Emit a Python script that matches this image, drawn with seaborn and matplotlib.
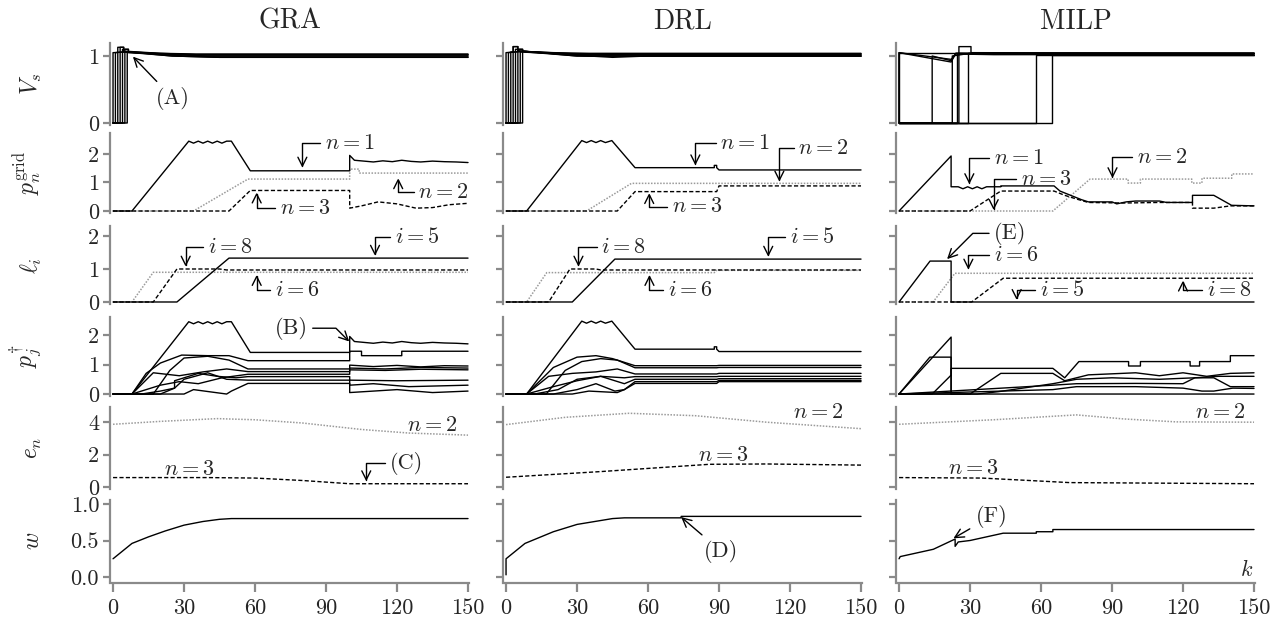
import matplotlib
matplotlib.use("Agg")
import matplotlib.pyplot as plt
import seaborn as sns

# ---------------- data ----------------
METHODS = ["GRA", "DRL", "MILP"]
ROW_LABELS = [r"$V_s$", r"$p_n^{\mathrm{grid}}$", r"$\ell_i$", r"$p_j^{\dagger}$", r"$e_n$", r"$w$"]
X_TICKS = [0, 30, 60, 90, 120, 150]
Y_TICKS = [[0, 1], [0, 1, 2], [0, 1, 2], [0, 1, 2], [0, 2, 4], [0.0, 0.5, 1.0]]
Y_TICKLABELS = [["0", "1"], ["0", "1", "2"], ["0", "1", "2"], ["0", "1", "2"],
                ["0", "2", "4"], ["0.0", "0.5", "1.0"]]

# bus voltages V_s  (k, value) per bus
GRA_VS = [
    ([0, 0, 6, 20, 35, 150], [0, 1.05, 1.06, 1.04, 1.03, 1.03]),
    ([0, 1, 1, 6, 20, 35, 150], [0, 0, 1.05, 1.07, 1.04, 1.02, 1.02]),
    ([0, 2, 2, 4.5, 4.5, 20, 40, 150], [0, 0, 1.13, 1.13, 1.07, 1.03, 1.0, 1.0]),
    ([0, 3, 3, 4.5, 4.5, 25, 45, 150], [0, 0, 1.13, 1.13, 1.06, 1.0, 0.98, 0.98]),
    ([0, 4, 4, 6.5, 6.5, 25, 45, 150], [0, 0, 1.1, 1.1, 1.06, 1.0, 0.98, 0.98]),
    ([0, 5, 5, 6.5, 6.5, 30, 150], [0, 0, 1.1, 1.1, 1.05, 1.02, 1.02]),
    ([0, 6, 6, 30, 150], [0, 0, 1.06, 1.0, 1.0]),
]
DRL_VS = [
    ([0, 0, 7, 20, 35, 150], [0, 1.05, 1.07, 1.05, 1.04, 1.04]),
    ([0, 1, 1, 7, 25, 150], [0, 0, 1.05, 1.07, 1.03, 1.03]),
    ([0, 2, 2, 3, 3, 5, 5, 30, 150], [0, 0, 1.06, 1.06, 1.14, 1.14, 1.08, 1.0, 1.0]),
    ([0, 3, 3, 5, 5, 30, 150], [0, 0, 1.14, 1.14, 1.07, 1.0, 1.0]),
    ([0, 4, 4, 7, 7, 35, 45, 60, 150], [0, 0, 1.1, 1.1, 1.07, 1.0, 0.98, 1.0, 1.0]),
    ([0, 5, 5, 7, 7, 30, 150], [0, 0, 1.1, 1.1, 1.07, 1.03, 1.03]),
    ([0, 6, 6, 30, 150], [0, 0, 1.06, 1.02, 1.02]),
    ([0, 7, 7, 35, 150], [0, 0, 1.07, 1.0, 1.0]),
]
MILP_VS = [
    ([0, 0, 150], [0, 1.05, 1.05]),
    ([0, 0, 22, 24, 40, 150], [0, 1.05, 0.91, 1.04, 1.03, 1.03]),
    ([0, 0, 22, 24, 40, 150], [0, 1.05, 0.95, 1.03, 1.02, 1.02]),
    ([0, 14, 14, 22, 24, 150], [0, 0, 1.0, 0.93, 1.04, 1.04]),
    ([0, 22.5, 22.5, 30, 150], [0, 0, 1.0, 1.04, 1.04]),
    ([0, 24.5, 24.5, 30, 150], [0, 0, 1.05, 1.05, 1.05]),
    ([0, 25.3, 25.3, 30.4, 30.4, 150], [0, 0, 1.14, 1.14, 1.05, 1.04]),
    ([0, 29, 29, 150], [0, 0, 1.05, 1.05]),
    ([0, 58, 58, 150], [0, 0, 1.02, 1.02]),
    ([0, 64.5, 64.5, 150], [0, 0, 1.02, 1.02]),
]

# grid power p_n^grid  (n = 1 solid, n = 2 dotted gray, n = 3 dashed)
GRA_PG_K1 = [0, 8, 32, 34, 36, 38, 40, 42, 44, 46, 48, 50, 58, 100, 100, 102, 106, 110, 114,
             118, 122, 126, 130, 135, 140, 145, 150]
GRA_PG_V1 = [0, 0, 2.45, 2.38, 2.45, 2.38, 2.45, 2.38, 2.45, 2.38, 2.45, 2.45, 1.41, 1.41, 1.95,
             1.78, 1.75, 1.72, 1.76, 1.73, 1.78, 1.74, 1.72, 1.75, 1.73, 1.72, 1.7]
GRA_PG_K2 = [0, 34, 57, 100, 100, 104, 104, 150]
GRA_PG_V2 = [0, 0, 1.12, 1.12, 1.47, 1.47, 1.33, 1.33]
GRA_PG_K3 = [0, 49, 58, 100, 100, 105, 112, 120, 128, 135, 142, 150]
GRA_PG_V3 = [0, 0, 0.72, 0.72, 0.1, 0.18, 0.32, 0.25, 0.1, 0.12, 0.22, 0.27]

DRL_PG_K1 = [0, 8.7, 32, 34, 36, 38, 40, 42, 44.7, 54.5, 88, 88, 89, 89, 90, 150]
DRL_PG_V1 = [0, 0, 2.47, 2.4, 2.47, 2.4, 2.47, 2.4, 2.47, 1.52, 1.52, 1.6, 1.6, 1.52, 1.44, 1.44]
DRL_PG_K2 = [0, 34, 53, 150]
DRL_PG_V2 = [0, 0, 0.97, 0.97]
DRL_PG_K3 = [0, 47, 54.5, 89, 90, 150]
DRL_PG_V3 = [0, 0, 0.68, 0.68, 0.88, 0.88]

MILP_PG_K1 = [0, 22, 22, 25, 27, 29, 31, 33, 35, 37, 43, 43, 65.5, 68, 71, 74, 77, 80, 90, 92,
              96, 100, 110, 113, 124, 124, 133, 140.5, 150]
MILP_PG_V1 = [0, 1.93, 0.85, 0.85, 0.78, 0.85, 0.78, 0.85, 0.78, 0.85, 0.85, 0.88, 0.88, 0.7,
              0.6, 0.5, 0.4, 0.32, 0.32, 0.25, 0.32, 0.35, 0.35, 0.3, 0.3, 0.55, 0.55, 0.2, 0.18]
MILP_PG_K2 = [0, 65, 80.7, 96.8, 96.8, 102, 102, 123.7, 123.7, 128, 128, 140.6, 140.6, 150]
MILP_PG_V2 = [0, 0, 1.12, 1.12, 0.98, 0.98, 1.12, 1.12, 0.98, 0.98, 1.15, 1.15, 1.3, 1.3]
MILP_PG_K3 = [0, 30, 43, 65.5, 70, 75, 80, 95, 110, 120, 124, 124, 133, 140, 150]
MILP_PG_V3 = [0, 0, 0.7, 0.7, 0.55, 0.42, 0.3, 0.28, 0.3, 0.3, 0.3, 0.1, 0.1, 0.18, 0.18]

# line loading l_i  (i = 5 solid, i = 6 dotted gray, i = 8 dashed)
GRA_L_K5, GRA_L_V5 = [0, 27, 49, 150], [0, 0, 1.33, 1.33]
GRA_L_K6, GRA_L_V6 = [0, 8, 17, 150], [0, 0, 0.9, 0.9]
GRA_L_K8, GRA_L_V8 = [0, 17, 27, 45, 48, 150], [0, 0, 1.0, 1.0, 0.97, 0.97]
DRL_L_K5, DRL_L_V5 = [0, 28, 46, 150], [0, 0, 1.3, 1.3]
DRL_L_K6, DRL_L_V6 = [0, 8.7, 17.2, 88, 89, 150], [0, 0, 0.89, 0.89, 0.96, 0.96]
DRL_L_K8, DRL_L_V8 = [0, 18, 27, 38, 40, 150], [0, 0, 1.0, 1.0, 0.97, 0.97]
MILP_L_K5, MILP_L_V5 = [0, 13.1, 22, 22, 150], [0, 1.24, 1.24, 0, 0]
MILP_L_K6, MILP_L_V6 = [0, 14.4, 23.6, 150], [0, 0, 0.87, 0.87]
MILP_L_K8, MILP_L_V8 = [0, 30.7, 44, 150], [0, 0, 0.72, 0.72]

# device power p_j^dagger
GRA_PD = [
    (GRA_PG_K1, GRA_PG_V1),
    ([0, 8, 14, 20, 29, 40, 49, 57, 100, 100, 105, 105, 122, 122, 150],
     [0, 0, 0.7, 1.05, 1.32, 1.3, 1.3, 1.13, 1.13, 1.45, 1.45, 1.3, 1.3, 1.45, 1.45]),
    ([0, 17, 24, 30, 40, 49, 57, 100, 100, 110, 120, 130, 140, 150],
     [0, 0, 0.8, 1.22, 1.28, 1.15, 0.85, 0.85, 0.98, 0.93, 0.97, 0.92, 0.96, 0.95]),
    ([0, 8, 17, 28, 38, 48, 57, 100, 100, 115, 130, 150],
     [0, 0, 0.72, 0.62, 0.75, 0.85, 0.76, 0.76, 0.88, 0.85, 0.9, 0.88]),
    ([0, 8, 20, 28, 36, 46, 57, 100, 100, 115, 130, 150],
     [0, 0, 0.3, 0.42, 0.35, 0.55, 0.67, 0.67, 0.82, 0.8, 0.84, 0.82]),
    ([0, 12, 20, 26, 26, 36, 44, 52, 57, 100, 100, 120, 150],
     [0, 0, 0.1, 0.2, 0.45, 0.7, 0.6, 0.55, 0.59, 0.59, 0.47, 0.45, 0.47]),
    ([0, 20, 26, 30, 40, 48, 57, 100, 100, 110, 125, 150],
     [0, 0, 0.2, 0.5, 0.72, 0.5, 0.47, 0.47, 0.3, 0.35, 0.25, 0.3]),
    ([0, 30, 34, 48, 50, 57, 100, 100, 110, 120, 135, 150],
     [0, 0, 0.15, 0.0, 0.1, 0.36, 0.36, 0.05, 0.1, 0.15, 0.05, 0.1]),
]
DRL_PD = [
    (DRL_PG_K1, DRL_PG_V1),
    ([0, 8.7, 20, 30, 38, 45, 54.5, 89, 90, 150], [0, 0, 0.9, 1.25, 1.3, 1.2, 0.96, 0.96, 0.97, 0.97]),
    ([0, 17, 25, 32, 40, 47, 54.5, 89, 90, 150], [0, 0, 0.8, 1.1, 1.2, 1.15, 0.89, 0.89, 0.9, 0.9]),
    ([0, 8.7, 18, 28, 38, 47, 54.5, 89, 90, 150], [0, 0, 0.6, 0.7, 0.75, 0.85, 0.68, 0.68, 0.7, 0.7]),
    ([0, 8.7, 20, 30, 40, 50, 54.5, 89, 90, 150], [0, 0, 0.25, 0.45, 0.6, 0.55, 0.59, 0.59, 0.6, 0.6]),
    ([0, 12, 22, 30, 40, 50, 54.5, 89, 90, 150], [0, 0, 0.15, 0.5, 0.6, 0.35, 0.5, 0.5, 0.52, 0.52]),
    ([0, 20, 30, 38, 46, 50, 54.5, 89, 90, 150], [0, 0, 0.15, 0.35, 0.1, 0.15, 0.42, 0.42, 0.46, 0.46]),
    ([0, 28, 35, 47, 50, 54.5, 89, 90, 150], [0, 0, 0.1, 0.05, 0.15, 0.36, 0.36, 0.42, 0.42]),
]
MILP_PD = [
    ([0, 22, 22, 150], [0, 1.93, 0, 0]),
    ([0, 13, 22, 22], [0, 1.25, 1.25, 0]),
    ([0, 14, 22, 22, 65, 70, 76, 97, 97, 102, 102, 123, 123, 127, 127, 140, 140, 150],
     [0, 0, 0.64, 0.87, 0.87, 0.55, 1.1, 1.1, 0.95, 0.95, 1.1, 1.1, 0.95, 0.95, 1.1, 1.1, 1.3, 1.3]),
    ([0, 30, 43, 65, 70, 80, 100, 110, 120, 130, 140, 150],
     [0, 0, 0.7, 0.7, 0.45, 0.65, 0.72, 0.62, 0.72, 0.6, 0.7, 0.72]),
    ([0, 33, 42, 65, 75, 90, 110, 125, 135, 150], [0, 0, 0.08, 0.35, 0.5, 0.55, 0.5, 0.55, 0.6, 0.6]),
    ([0, 65, 75, 100, 120, 125, 133, 140, 150], [0, 0.3, 0.35, 0.36, 0.35, 0.55, 0.55, 0.25, 0.25]),
    ([0, 65, 75, 100, 120, 128, 133, 141, 150], [0, 0.15, 0.25, 0.25, 0.2, 0.1, 0.1, 0.2, 0.19]),
]

# stored energy e_n  (n = 2 dotted gray, n = 3 dashed)
GRA_E_K2, GRA_E_V2 = [0, 20, 44, 60, 80, 105, 125, 150], [3.87, 4.05, 4.22, 4.15, 3.95, 3.55, 3.33, 3.2]
GRA_E_K3, GRA_E_V3 = [0, 40, 60, 80, 100, 150], [0.58, 0.58, 0.55, 0.4, 0.2, 0.2]
DRL_E_K2, DRL_E_V2 = [0, 25, 52, 80, 110, 150], [3.85, 4.3, 4.55, 4.4, 4.0, 3.6]
DRL_E_K3, DRL_E_V3 = [0, 40, 86, 110, 150], [0.6, 0.95, 1.4, 1.42, 1.35]
MILP_E_K2, MILP_E_V2 = [0, 40, 75, 95, 117, 150], [3.87, 4.15, 4.45, 4.2, 4.02, 4.0]
MILP_E_K3, MILP_E_V3 = [0, 35, 55, 72, 150], [0.58, 0.55, 0.4, 0.27, 0.2]

# weight w
GRA_W_K = [0, 8, 15, 22, 30, 38, 45, 50, 150]
GRA_W_V = [0.25, 0.46, 0.55, 0.63, 0.71, 0.76, 0.79, 0.8, 0.8]
DRL_W_K = [0, 0, 8, 20, 30, 45, 50, 74, 74, 150]
DRL_W_V = [0.03, 0.25, 0.46, 0.62, 0.72, 0.8, 0.81, 0.81, 0.83, 0.83]
MILP_W_K = [0, 0.5, 14.5, 23.7, 23.7, 25, 30, 37, 44, 58, 58, 65, 65, 150]
MILP_W_V = [0.25, 0.28, 0.38, 0.52, 0.42, 0.48, 0.5, 0.55, 0.6, 0.6, 0.62, 0.62, 0.65, 0.65]

# ---------------- style ----------------
sns.set_theme(style="white")
plt.rcParams.update({
    "font.family": ["serif"],
    "font.serif": ["cmr10", "DejaVu Serif"],
    "mathtext.fontset": "cm",
    "axes.formatter.use_mathtext": True,
    "axes.unicode_minus": False,
})

SPINE = "#8a8a8a"
SOLID = dict(color="black", lw=1.0, linestyle="-")
DOTTED = dict(color="#9a9a9a", lw=1.1, linestyle=(0, (1, 1)))
DASHED = dict(color="black", lw=1.0, linestyle=(0, (3, 1.6)))
FS = 16       # annotation text
TFS = 16      # tick labels

W_PX, H_PX = 1276, 625
COL_LEFT = [110.2, 503.2, 896.2]
AX_W = 359.0
ROW_PX = [(42.6, 125.0), (132.6, 213.0), (226.1, 304.3), (317.3, 396.1), (406.8, 489.4), (500.3, 580.7)]
YLIMS = [(-0.03, 1.2), (-0.07, 2.75), (-0.07, 2.3), (-0.07, 2.6), (-0.15, 4.95), (-0.05, 1.05)]

fig = plt.figure(figsize=(W_PX / 100, H_PX / 100), dpi=100)

axes = [[None] * 3 for _ in range(6)]
for r in range(6):
    top, bot = ROW_PX[r]
    for c in range(3):
        ax = fig.add_axes([COL_LEFT[c] / W_PX, 1 - bot / H_PX, AX_W / W_PX, (bot - top) / H_PX])
        ax.set_xlim(-1.2, 150.5)
        ax.set_ylim(*YLIMS[r])
        axes[r][c] = ax


def draw(ax, k, v, style):
    sns.lineplot(x=k, y=v, ax=ax, estimator=None, sort=False, **style)


for c, vs in enumerate([GRA_VS, DRL_VS, MILP_VS]):
    for k, v in vs:
        draw(axes[0][c], k, v, SOLID)

PG = [((GRA_PG_K1, GRA_PG_V1), (GRA_PG_K2, GRA_PG_V2), (GRA_PG_K3, GRA_PG_V3)),
      ((DRL_PG_K1, DRL_PG_V1), (DRL_PG_K2, DRL_PG_V2), (DRL_PG_K3, DRL_PG_V3)),
      ((MILP_PG_K1, MILP_PG_V1), (MILP_PG_K2, MILP_PG_V2), (MILP_PG_K3, MILP_PG_V3))]
for c, (s1, s2, s3) in enumerate(PG):
    draw(axes[1][c], *s2, DOTTED)
    draw(axes[1][c], *s3, DASHED)
    draw(axes[1][c], *s1, SOLID)

LL = [((GRA_L_K5, GRA_L_V5), (GRA_L_K6, GRA_L_V6), (GRA_L_K8, GRA_L_V8)),
      ((DRL_L_K5, DRL_L_V5), (DRL_L_K6, DRL_L_V6), (DRL_L_K8, DRL_L_V8)),
      ((MILP_L_K5, MILP_L_V5), (MILP_L_K6, MILP_L_V6), (MILP_L_K8, MILP_L_V8))]
for c, (s5, s6, s8) in enumerate(LL):
    draw(axes[2][c], *s6, DOTTED)
    draw(axes[2][c], *s8, DASHED)
    draw(axes[2][c], *s5, SOLID)

for c, pd_ in enumerate([GRA_PD, DRL_PD, MILP_PD]):
    for k, v in pd_:
        draw(axes[3][c], k, v, SOLID)

EE = [((GRA_E_K2, GRA_E_V2), (GRA_E_K3, GRA_E_V3)),
      ((DRL_E_K2, DRL_E_V2), (DRL_E_K3, DRL_E_V3)),
      ((MILP_E_K2, MILP_E_V2), (MILP_E_K3, MILP_E_V3))]
for c, (s2, s3) in enumerate(EE):
    draw(axes[4][c], *s2, DOTTED)
    draw(axes[4][c], *s3, DASHED)

for c, (k, v) in enumerate([(GRA_W_K, GRA_W_V), (DRL_W_K, DRL_W_V), (MILP_W_K, MILP_W_V)]):
    draw(axes[5][c], k, v, SOLID)

# ---------------- axes cosmetics ----------------
for r in range(6):
    for c in range(3):
        ax = axes[r][c]
        ax.set_xlabel("")
        ax.set_ylabel("")
        for s in ["top", "right"]:
            ax.spines[s].set_visible(False)
        ax.spines["left"].set_color(SPINE)
        ax.spines["left"].set_linewidth(1.6)
        ax.set_yticks(Y_TICKS[r])
        ax.tick_params(axis="y", direction="out", length=5, width=1.6, color=SPINE,
                       labelsize=TFS, pad=3, left=True)
        if c == 0:
            ax.set_yticklabels(Y_TICKLABELS[r])
            ax.set_ylabel(ROW_LABELS[r], fontsize=17)
            ax.yaxis.set_label_coords(-0.185, 0.5)
        else:
            ax.set_yticklabels([])
        if r == 5:
            ax.spines["bottom"].set_position(("outward", 2))
            ax.spines["bottom"].set_color(SPINE)
            ax.spines["bottom"].set_linewidth(1.6)
            ax.set_xticks(X_TICKS)
            ax.set_xticklabels([str(t) for t in X_TICKS])
            ax.tick_params(axis="x", direction="out", length=6.5, width=1.6, color=SPINE,
                           labelsize=TFS, pad=4, bottom=True)
        else:
            ax.spines["bottom"].set_visible(False)
            ax.set_xticks([])
        ax.grid(False)
        ax.set_facecolor("none")

for c, name in enumerate(METHODS):
    axes[0][c].set_title(name, fontsize=20, pad=10)

# ---------------- annotations ----------------
ARW = "->,head_length=0.4,head_width=0.2"


def corner(ax, text, xytext, xy, angleB=90, ha="left"):
    rel = (0, 0.5) if ha == "left" else (1, 0.5)
    ax.annotate(text, xy=xy, xytext=xytext, ha=ha, va="center", fontsize=FS,
                arrowprops=dict(arrowstyle=ARW, lw=1.0, color="black", shrinkA=1, shrinkB=0,
                                relpos=rel,
                                connectionstyle=f"angle,angleA=0,angleB={angleB},rad=0"))


def straight(ax, text, xytext, xy):
    ax.annotate(text, xy=xy, xytext=xytext, ha="center", va="center", fontsize=FS,
                arrowprops=dict(arrowstyle=ARW, lw=1.0, color="black", shrinkA=2, shrinkB=0))


straight(axes[0][0], "(A)", (25.3, 0.37), (8.4, 0.99))

corner(axes[1][0], r"$n=1$", (89.6, 2.39), (80, 1.52))
corner(axes[1][0], r"$n=3$", (70.5, 0.1), (60.7, 0.65))
corner(axes[1][0], r"$n=2$", (129, 0.67), (120.5, 1.15))
corner(axes[1][1], r"$n=1$", (90.5, 2.39), (80, 1.6))
corner(axes[1][1], r"$n=2$", (123.5, 2.2), (115.5, 1.03))
corner(axes[1][1], r"$n=3$", (70, 0.15), (60.5, 0.63))
corner(axes[1][2], r"$n=1$", (40, 1.85), (29.7, 0.94))
corner(axes[1][2], r"$n=3$", (51.5, 1.12), (40, 0.03))
corner(axes[1][2], r"$n=2$", (100.4, 1.9), (90.2, 1.15))

corner(axes[2][0], r"$i=8$", (40, 1.66), (30.7, 1.07))
corner(axes[2][0], r"$i=6$", (68.4, 0.36), (60.7, 0.82))
corner(axes[2][0], r"$i=5$", (119, 1.98), (110.7, 1.4))
corner(axes[2][1], r"$i=8$", (40.3, 1.68), (30.6, 1.07))
corner(axes[2][1], r"$i=6$", (68.3, 0.36), (60.6, 0.82))
corner(axes[2][1], r"$i=5$", (120, 1.98), (110.8, 1.37))
corner(axes[2][2], "(E)", (40, 2.08), (20.3, 1.3), angleB=45)
corner(axes[2][2], r"$i=6$", (40, 1.42), (29.3, 0.98))
corner(axes[2][2], r"$i=5$", (59.6, 0.36), (49.7, 0.06))
corner(axes[2][2], r"$i=8$", (130, 0.36), (120, 0.65))

corner(axes[3][0], "(B)", (82.4, 2.23), (99.8, 1.78), angleB=135, ha="right")

axes[4][0].text(135, 3.8, r"$n=2$", ha="center", va="center", fontsize=FS)
axes[4][0].text(32, 1.1, r"$n=3$", ha="center", va="center", fontsize=FS)
corner(axes[4][0], "(C)", (117, 1.46), (107, 0.35))
axes[4][1].text(132, 4.6, r"$n=2$", ha="center", va="center", fontsize=FS)
axes[4][1].text(92, 1.97, r"$n=3$", ha="center", va="center", fontsize=FS)
axes[4][2].text(135.6, 4.6, r"$n=2$", ha="center", va="center", fontsize=FS)
axes[4][2].text(31.4, 1.15, r"$n=3$", ha="center", va="center", fontsize=FS)

straight(axes[5][1], "(D)", (91, 0.35), (74, 0.82))
straight(axes[5][2], "(F)", (39, 0.83), (23, 0.53))
axes[5][2].text(147, 0.1, r"$k$", ha="center", va="center", fontsize=FS)

fig.savefig("out.png", dpi=100)
